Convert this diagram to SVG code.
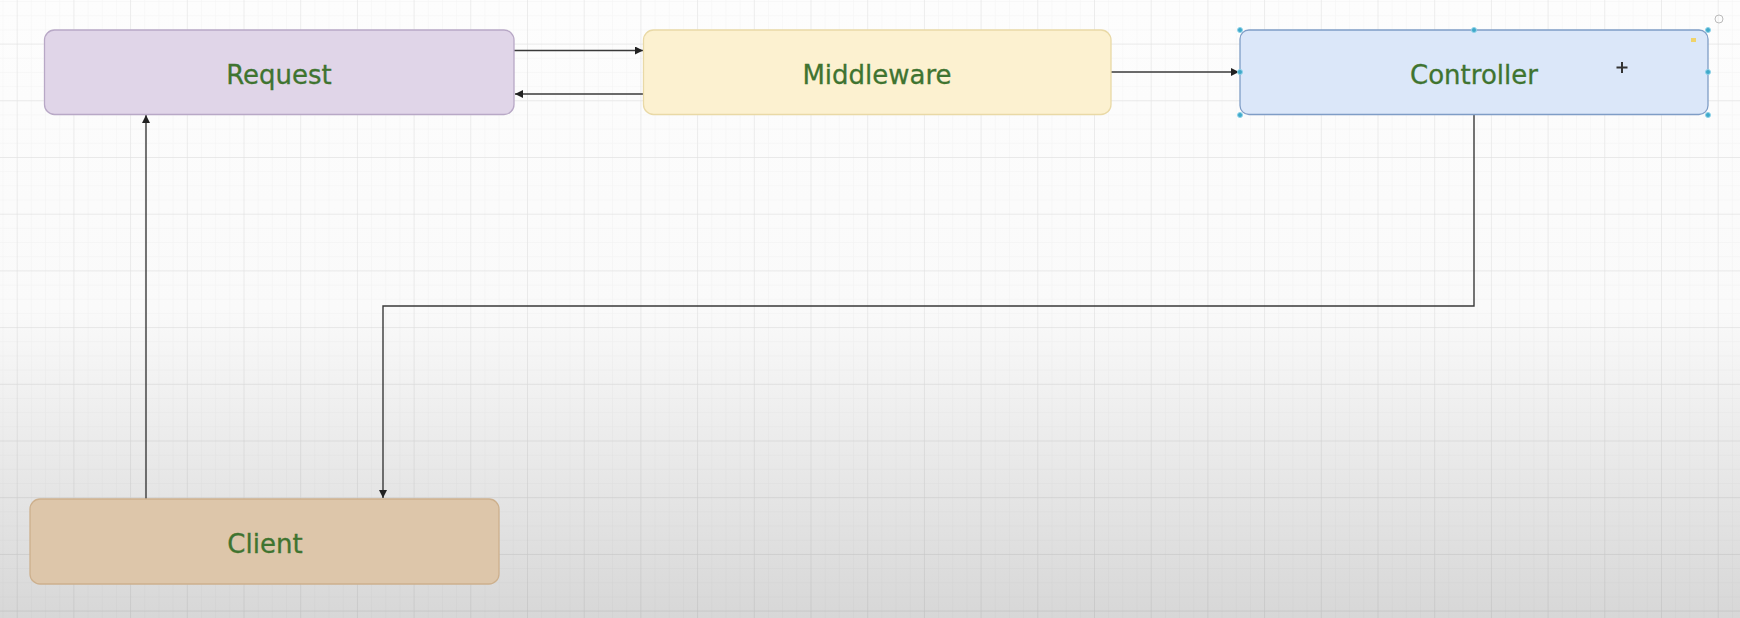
<svg xmlns="http://www.w3.org/2000/svg" width="1740" height="618" viewBox="0 0 1740 618">
  <defs>
    <linearGradient id="bg" x1="0" y1="0" x2="0" y2="1">
      <stop offset="0" stop-color="#fdfdfd"/>
      <stop offset="0.5" stop-color="#fafafa"/>
      <stop offset="1" stop-color="#d7d7d7"/>
    </linearGradient>
    <pattern id="minor" x="16.7" y="43.6" width="14.175" height="14.175" patternUnits="userSpaceOnUse">
      <path d="M0 0 H14.175 M0 0 V14.175" fill="none" stroke="#000" stroke-opacity="0.035" stroke-width="1"/>
    </pattern>
    <pattern id="major" x="16.7" y="43.6" width="56.7" height="56.7" patternUnits="userSpaceOnUse">
      <path d="M0 0 H56.7 M0 0 V56.7" fill="none" stroke="#000" stroke-opacity="0.07" stroke-width="1.3"/>
    </pattern>
    <marker id="arr" markerUnits="userSpaceOnUse" markerWidth="10" markerHeight="9" refX="8" refY="4" orient="auto">
      <path d="M0,0 L8,4 L0,8 z" fill="#222"/>
    </marker>
    <style>
      .box { stroke-width: 1.3; }
      .lbl { font-family: "DejaVu Sans", "Liberation Sans", sans-serif; font-size: 26px; fill: #3f7430; stroke: #3f7430; stroke-width: 0.3; text-anchor: middle; }
      .conn { fill: none; stroke: #3a3a3a; stroke-width: 1.4; }
      .handle { fill: #3fa9c9; stroke: #8fd3ea; stroke-width: 1; }
    </style>
  </defs>

  <rect x="0" y="0" width="1740" height="618" fill="url(#bg)"/>
  <rect x="0" y="0" width="1740" height="618" fill="url(#minor)"/>
  <rect x="0" y="0" width="1740" height="618" fill="url(#major)"/>

  <g id="connectors">
    <path class="conn" d="M514 50.5 H643" marker-end="url(#arr)"/>
    <path class="conn" d="M644 94 H515" marker-end="url(#arr)"/>
    <path class="conn" d="M1111 72 H1239" marker-end="url(#arr)"/>
    <path class="conn" d="M1474 115 V306 H383 V498" marker-end="url(#arr)"/>
    <path class="conn" d="M146 499 V115" marker-end="url(#arr)"/>
  </g>

  <g id="request">
    <rect class="box" x="44.5" y="30" width="469.5" height="84.5" rx="10" fill="#e0d5e8" stroke="#b8a8c6"/>
    <text class="lbl" x="279" y="84">Request</text>
  </g>

  <g id="middleware">
    <rect class="box" x="643.5" y="30" width="467.5" height="84.5" rx="10" fill="#fcf1d0" stroke="#e9d9a6"/>
    <text class="lbl" x="877" y="84">Middleware</text>
  </g>

  <g id="controller">
    <rect class="box" x="1240" y="30" width="468" height="84.5" rx="9" fill="#dbe7f9" stroke="#7f9dc6"/>
    <text class="lbl" x="1474" y="84">Controller</text>
    <circle class="handle" cx="1240" cy="30" r="2.5"/>
    <circle class="handle" cx="1474" cy="30" r="2.5"/>
    <circle class="handle" cx="1708" cy="30" r="2.5"/>
    <circle class="handle" cx="1240" cy="72" r="2.5"/>
    <circle class="handle" cx="1708" cy="72" r="2.5"/>
    <circle class="handle" cx="1240" cy="115" r="2.5"/>
    <circle class="handle" cx="1708" cy="115" r="2.5"/>
    <path d="M1622 62 V73 M1616.5 67.5 H1627.5" stroke="#333" stroke-width="2"/>
    <circle cx="1719" cy="19" r="4" fill="none" stroke="#bbb" stroke-width="1"/>
    <rect x="1691" y="38" width="5" height="4" fill="#f0d36a"/>
  </g>

  <g id="client">
    <rect class="box" x="30" y="499" width="469" height="85" rx="10" fill="#ddc6aa" stroke="#cdb08d"/>
    <text class="lbl" x="265" y="553">Client</text>
  </g>
</svg>
